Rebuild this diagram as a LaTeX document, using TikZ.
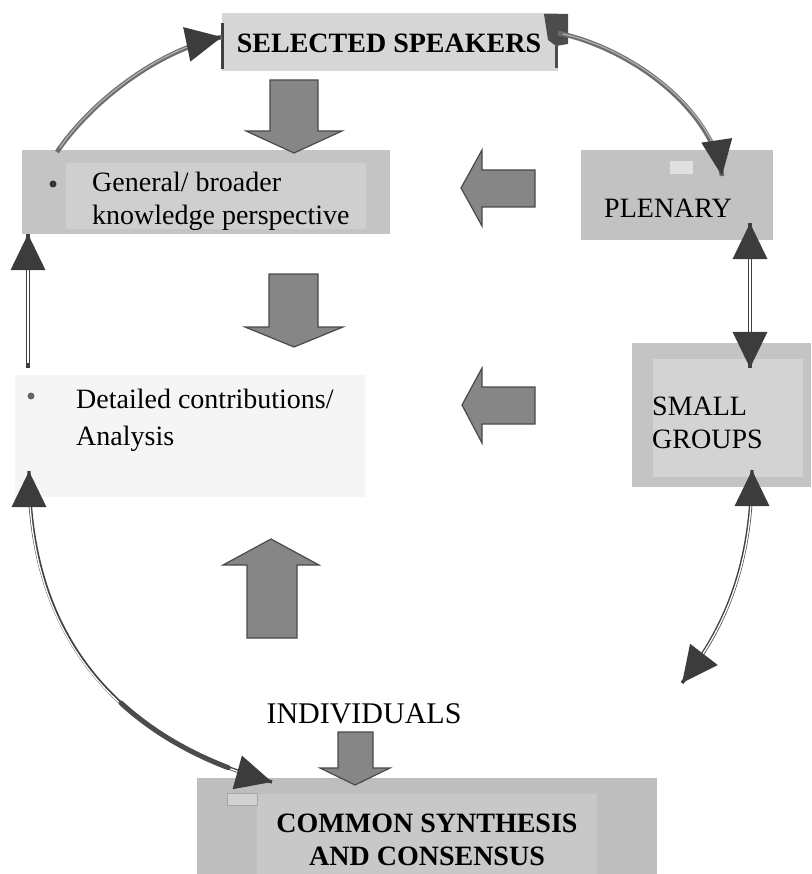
\documentclass[tikz,border=0pt]{standalone}
\usepackage{fontspec}
\setmainfont{Liberation Serif}
\usetikzlibrary{arrows.meta,decorations.markings}
\definecolor{ssfill}{HTML}{D6D6D6}
\definecolor{genfill}{HTML}{C4C4C4}
\definecolor{genlight}{HTML}{CFCFCF}
\definecolor{plfill}{HTML}{C2C2C2}
\definecolor{sgfill}{HTML}{C4C4C4}
\definecolor{sglight}{HTML}{D3D3D3}
\definecolor{csfill}{HTML}{BEBEBE}
\definecolor{cslight}{HTML}{C8C8C8}
\definecolor{detfill}{HTML}{F5F5F5}
\definecolor{arrowfill}{HTML}{868686}
\definecolor{arrowedge}{HTML}{4A4A4A}
\definecolor{tipcol}{HTML}{3C3C3C}
\definecolor{linecol}{HTML}{404040}
\definecolor{upcol}{HTML}{6E6E6E}
\begin{document}
\begin{tikzpicture}[x=1pt,y=-1pt,
  box/.style={rectangle, inner sep=0pt, outer sep=0pt, draw=none},
  txt/.style={inner sep=0pt, font=\fontsize{28}{34}\selectfont},
  btxt/.style={inner sep=0pt, font=\fontsize{28}{34}\selectfont\bfseries},
  bul/.style={circle, fill=black!80, inner sep=0pt, minimum size=7pt},
  barrow/.style={fill=arrowfill, draw=arrowedge, line width=1.2pt, line join=miter},
  tipT/.tip={Triangle[length=36pt,width=34pt,color=tipcol]},
  conn/.style={draw=linecol, line width=3.4pt,
    postaction={draw=white, line width=1.3pt, shorten <=5pt, shorten >=5pt}},
  uconn/.style={draw=upcol, line width=4.6pt,
    postaction={draw=black!30, line width=1.2pt, shorten <=5pt, shorten >=5pt}},
  endtip/.style={postaction={decorate, decoration={markings,
    mark=at position 0.9999 with {\arrow{#1}}}}},
  endtip/.default=tipT,
  starttip/.style={postaction={decorate, decoration={markings,
    mark=at position 0.0001 with {\arrowreversed{tipT}}}}}
]
\useasboundingbox (0,0) rectangle (811,874);

% ---------- boxes ----------
\node[box, fill=ssfill, minimum width=336pt, minimum height=58pt] (ss) at (390,42) {};
\node[box, fill=genfill, minimum width=368pt, minimum height=84pt] (gen) at (206,192) {};
\node[box, fill=genlight, minimum width=300pt, minimum height=66pt] (genin) at (216,196) {};
\node[box, fill=plfill, minimum width=192pt, minimum height=90pt] (pl) at (677,195) {};
\node[box, fill=sgfill, minimum width=179pt, minimum height=144pt] (sg) at (721.5,415) {};
\node[box, fill=sglight, minimum width=150pt, minimum height=118pt] (sgin) at (728,418) {};
\node[box, fill=detfill, minimum width=350pt, minimum height=122pt] (det) at (190,436) {};
\node[box, fill=csfill, minimum width=460pt, minimum height=96pt] (cs) at (427,826) {};
\node[box, fill=cslight, minimum width=340pt, minimum height=80pt] (csin) at (427,834) {};

% small artefact squares
\node[box, fill=black!12, minimum width=23pt, minimum height=13pt] (plsq) at (681,168) {};
\node[box, fill=black!18, draw=black!35, minimum width=30pt, minimum height=12pt] (cssq) at (242,799) {};

% bars on the SELECTED SPEAKERS box
\draw[line width=3pt, black!75] (ss.south west) ++(0,-2) -- ++(0,-46);
\fill[black!70] (544,14) -- (568,14) -- (568,44) -- (556,46) -- (548,40) -- cycle;
\draw[line width=3pt, black!70] (556,46) -- (556,68);

% ---------- texts ----------
\node[btxt] (sst) at (389,43) {SELECTED SPEAKERS};
\node[bul] (genb) at (53,184) {};
\node[txt, anchor=base west] (gen1) at (92,192) {General/ broader};
\node[txt, anchor=base west] (gen2) at (92,225) {knowledge perspective};
\node[txt] (plt) at (668,208) {PLENARY};
\node[bul, fill=black!60] (detb) at (31,396) {};
\node[txt, anchor=base west] (det1) at (76,408) {Detailed contributions/};
\node[txt, anchor=base west] (det2) at (76,445) {Analysis};
\node[txt, anchor=base west] (sg1) at (652,415) {SMALL};
\node[txt, anchor=base west] (sg2) at (652,448) {GROUPS};
\node[inner sep=0pt, font=\fontsize{30}{36}\selectfont, anchor=base] (ind) at (364,723) {INDIVIDUALS};
\node[btxt, anchor=base] (cs1) at (427,832) {COMMON SYNTHESIS};
\node[btxt, anchor=base] (cs2) at (427,865) {AND CONSENSUS};

% ---------- block arrows ----------
\draw[barrow] (270,80) -- (318,80) -- (318,131) -- (342,131) -- (294,153) -- (246,131) -- (270,131) -- cycle;
\draw[barrow] (269,274) -- (318,274) -- (318,327) -- (343,327) -- (294,347) -- (245,327) -- (269,327) -- cycle;
\draw[barrow] (535,170) -- (535,207) -- (482,207) -- (482,226) -- (461,188) -- (482,150) -- (482,170) -- cycle;
\draw[barrow] (535,387) -- (535,424) -- (482,424) -- (482,443) -- (462,405) -- (482,368) -- (482,387) -- cycle;
\draw[barrow] (247,638) -- (247,565) -- (223,565) -- (271,539) -- (319,565) -- (297,565) -- (297,638) -- cycle;
\draw[barrow] (338,732) -- (373,732) -- (373,768) -- (390,768) -- (355,785) -- (320,768) -- (338,768) -- cycle;

% ---------- connectors ----------
\coordinate (c1a) at (57,152);
\coordinate (c1b) at (222,37);
\coordinate (c2a) at (558,33);
\coordinate (c2b) at (722,176);
\coordinate (c3a) at (750,223);
\coordinate (c3b) at (750,368);
\coordinate (c4a) at (752,470);
\coordinate (c4b) at (682,683);
\coordinate (c5a) at (29,471);
\coordinate (c5b) at (272,782);
\coordinate (c6a) at (28,368);
\coordinate (c6b) at (28,234);

\draw[uconn, endtip] (c1a) .. controls (85,110) and (150,52) .. (c1b);
\draw[uconn, endtip={Triangle[length=36pt,width=30pt,color=tipcol]}] (c2a) .. controls (630,48) and (712,108) .. (c2b);
\draw[conn, starttip, endtip] (c3a) -- (c3b);
\draw[conn, starttip, endtip] (c4a) .. controls (752,580) and (715,640) .. (c4b);
\draw[conn, starttip, endtip] (c5a) .. controls (29,640) and (120,740) .. (c5b);
% darker, heavier stretch of the lower left connector
\draw[line width=5pt, black!70, line cap=round] (121,703) .. controls (150.5,730) and (186.4,751.6) .. (228.3,767.7);
\draw[conn, endtip] (c6a) -- (c6b);
\end{tikzpicture}
\end{document}
